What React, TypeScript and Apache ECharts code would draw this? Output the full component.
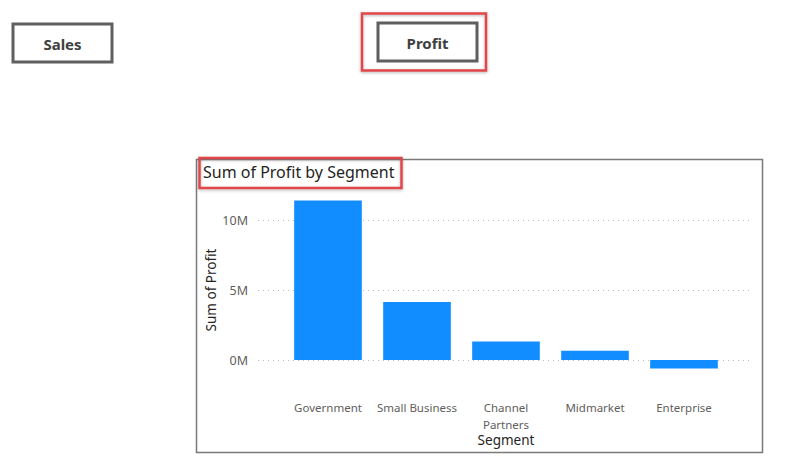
import React, { useEffect, useRef } from "react";
import * as echarts from "echarts";

const categories = ["Government", "Small Business", "Channel Partners", "Midmarket", "Enterprise"];
const profitValues = [11388000, 4143000, 1317000, 660000, -615000];
const yTicks = [-5000000, 0, 5000000, 10000000, 15000000];

const FONT = "'Noto Sans', 'Open Sans', sans-serif";

export default function App() {
  const ref = useRef<HTMLDivElement>(null);
  useEffect(() => {
    if (!ref.current) return;
    const chart = echarts.init(ref.current, null, { renderer: "svg" });
    const yMin = yTicks[0];
    const yMax = yTicks[yTicks.length - 1];
    const yInterval = yTicks[1] - yTicks[0];
    chart.setOption({
      animation: false,
      backgroundColor: "#ffffff",
      textStyle: { fontFamily: FONT },
      grid: [
        { left: 258, right: 34, top: 150, bottom: 33, containLabel: false, outerBoundsMode: "none" },
        { left: 283.5, right: 57.5, top: 150, bottom: 33, containLabel: false, outerBoundsMode: "none" },
      ],
      xAxis: [
        { gridIndex: 0, type: "value", show: false, min: 0, max: 1 },
        {
          gridIndex: 1,
          type: "category",
          data: categories,
          offset: -70,
          axisLine: { show: false, onZero: false },
          axisTick: { show: false },
          axisLabel: {
            interval: 0,
            color: "#605E5C",
            fontSize: 11.5,
            fontFamily: FONT,
            margin: 39,
            lineHeight: 17,
            formatter: (v: string) => v.replace(" Partners", "\nPartners"),
          },
          name: "Segment",
          nameLocation: "middle",
          nameGap: 73,
          nameMoveOverlap: false,
          nameTextStyle: { color: "#252423", fontSize: 13.5, fontFamily: FONT },
        },
      ],
      yAxis: [
        {
          gridIndex: 0,
          type: "value",
          min: yMin,
          max: yMax,
          interval: yInterval,
          axisLine: { show: false },
          axisTick: { show: false },
          axisLabel: {
            showMinLabel: false,
            showMaxLabel: false,
            color: "#605E5C",
            fontSize: 12.5,
            fontFamily: FONT,
            margin: 10,
            formatter: (v: number) => v / 1000000 + "M",
          },
          splitLine: {
            show: true,
            lineStyle: {
              type: [1, 4],
              width: 1,
              color: ["rgba(0,0,0,0)", "#BDBDBD", "#BDBDBD", "#BDBDBD", "rgba(0,0,0,0)"],
            },
          },
          name: "Sum of Profit",
          nameLocation: "middle",
          nameGap: 40,
          nameMoveOverlap: false,
          nameTextStyle: { color: "#252423", fontSize: 13.5, fontFamily: FONT },
        },
        {
          gridIndex: 1,
          type: "value",
          min: yMin,
          max: yMax,
          interval: yInterval,
          axisLine: { show: false },
          axisTick: { show: false },
          axisLabel: { show: false },
          splitLine: { show: false },
        },
      ],
      series: [
        {
          type: "bar",
          xAxisIndex: 1,
          yAxisIndex: 1,
          data: profitValues,
          barCategoryGap: "24%",
          itemStyle: { color: "#118DFF" },
        },
      ],
      graphic: [
        {
          type: "rect",
          shape: { x: 196.5, y: 159.5, width: 566, height: 293 },
          style: { fill: "none", stroke: "#7a7a7a", lineWidth: 1.5 },
          z: 10,
        },
        {
          type: "text",
          x: 203,
          y: 172,
          style: {
            text: "Sum of Profit by Segment",
            fill: "#252423",
            fontSize: 16,
            fontFamily: FONT,
            verticalAlign: "middle",
          },
          z: 10,
        },
        {
          type: "rect",
          shape: { x: 199.5, y: 158, width: 202, height: 30 },
          style: {
            fill: "none",
            stroke: "#E0474C",
            lineWidth: 2.5,
            shadowBlur: 3,
            shadowColor: "rgba(0,0,0,0.3)",
            shadowOffsetY: 1,
          },
          z: 11,
        },
        {
          type: "rect",
          shape: { x: 13, y: 24, width: 99, height: 38 },
          style: { fill: "#ffffff", stroke: "#5f5f5f", lineWidth: 3 },
          z: 10,
        },
        {
          type: "text",
          x: 62.5,
          y: 44,
          style: {
            text: "Sales",
            fill: "#404040",
            fontSize: 15,
            fontWeight: "bold",
            fontFamily: FONT,
            align: "center",
            verticalAlign: "middle",
          },
          z: 11,
        },
        {
          type: "rect",
          shape: { x: 378, y: 23, width: 99, height: 38 },
          style: { fill: "#ffffff", stroke: "#5f5f5f", lineWidth: 3 },
          z: 10,
        },
        {
          type: "text",
          x: 427.5,
          y: 43,
          style: {
            text: "Profit",
            fill: "#404040",
            fontSize: 15,
            fontWeight: "bold",
            fontFamily: FONT,
            align: "center",
            verticalAlign: "middle",
          },
          z: 11,
        },
        {
          type: "rect",
          shape: { x: 362, y: 13.5, width: 124, height: 57 },
          style: {
            fill: "none",
            stroke: "#E0474C",
            lineWidth: 2.5,
            shadowBlur: 3,
            shadowColor: "rgba(0,0,0,0.3)",
            shadowOffsetY: 1,
          },
          z: 11,
        },
      ],
    });
    return () => chart.dispose();
  }, []);
  return (
    <div
      ref={ref}
      style={{ position: "fixed", left: 0, top: 0, width: 786, height: 463 }}
    />
  );
}
